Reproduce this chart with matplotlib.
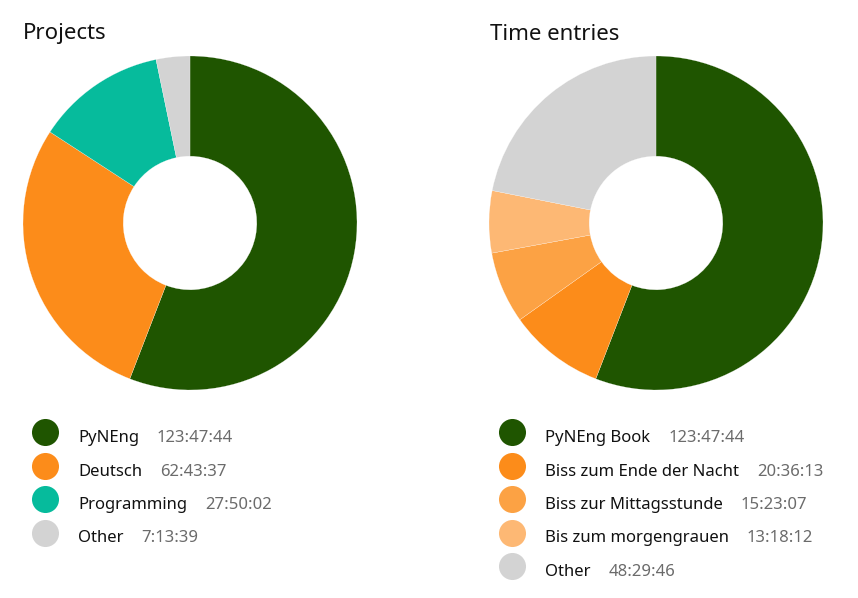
import matplotlib
matplotlib.use("Agg")
import matplotlib.pyplot as plt

plt.rcParams["font.family"] = ["Noto Sans", "DejaVu Sans"]

W, H = 858, 598

# data (hh:mm:ss strings as shown)
project_labels = ["PyNEng", "Deutsch", "Programming", "Other"]
project_times = ["123:47:44", "62:43:37", "27:50:02", "7:13:39"]
project_colors = ["#1f5500", "#fc8c1a", "#06bb9c", "#d3d3d3"]

entry_labels = ["PyNEng Book", "Biss zum Ende der Nacht", "Biss zur Mittagsstunde",
                "Bis zum morgengrauen", "Other"]
entry_times = ["123:47:44", "20:36:13", "15:23:07", "13:18:12", "48:29:46"]
entry_colors = ["#1f5500", "#fc8c1a", "#fca244", "#fdb874", "#d3d3d3"]


def to_seconds(s):
    h, m, sec = (int(p) for p in s.split(":"))
    return h * 3600 + m * 60 + sec


def donut(cx, cy, r, times, colors):
    ax = fig.add_axes([(cx - r) / W, (H - cy - r) / H, 2 * r / W, 2 * r / H])
    vals = [to_seconds(t) for t in times]
    ax.pie(vals, colors=colors, startangle=90, counterclock=False, radius=1,
           wedgeprops=dict(width=0.6, edgecolor="white", linewidth=0.15))
    ax.set_xlim(-1, 1)
    ax.set_ylim(-1, 1)
    ax.set_aspect("auto")
    ax.axis("off")


def legend(x0, y0, labels, times, colors, step=33.5):
    for i, (lab, t, c) in enumerate(zip(labels, times, colors)):
        y = y0 + i * step
        overlay.scatter([x0], [y], s=27 ** 2 * 0.52, color=c, linewidths=0)
        txt = overlay.text(x0 + 33, y + 6, lab, fontsize=12, color="#111111",
                           va="center", ha="left")
        overlay.annotate(t, xy=(1, 0.5), xycoords=txt, xytext=(18, 0),
                         textcoords="offset pixels", fontsize=12,
                         color="#6b6b6b", va="center", ha="left")


fig = plt.figure(figsize=(W / 100, H / 100), dpi=100)
overlay = fig.add_axes([0, 0, 1, 1])
overlay.set_xlim(0, W)
overlay.set_ylim(H, 0)
overlay.axis("off")

overlay.text(23, 34, "Projects", fontsize=16, va="center", ha="left", color="#111111")
overlay.text(490, 34, "Time entries", fontsize=16, va="center", ha="left", color="#111111")

donut(190, 223, 167, project_times, project_colors)
donut(656, 223, 167, entry_times, entry_colors)

legend(45, 432, project_labels, project_times, project_colors)
legend(512, 432, entry_labels, entry_times, entry_colors)

fig.savefig("out.png", dpi=100)
